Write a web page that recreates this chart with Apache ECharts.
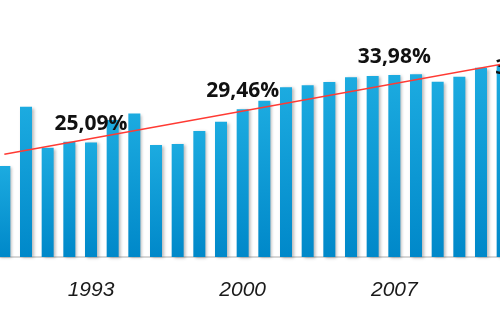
<!DOCTYPE html>
<html>
<head>
<meta charset="utf-8">
<script src="https://cdn.jsdelivr.net/npm/echarts@6/dist/echarts.min.js"></script>
<style>
  html, body { margin: 0; padding: 0; background: #ffffff; }
  #chart { width: 500px; height: 328px; }
</style>
</head>
<body>
<div id="chart"></div>
<script>
// Yearly share (%) shown as bars, with a linear trend line across the period
const years = ['1989','1990','1991','1992','1993','1994','1995','1996','1997','1998','1999','2000',
               '2001','2002','2003','2004','2005','2006','2007','2008','2009','2010','2011','2012'];
const shares = [22.0, 29.8, 24.4, 25.2, 25.09, 28.05, 28.9, 24.76, 24.89, 26.6, 27.83, 29.46,
                30.59, 32.36, 32.62, 33.06, 33.68, 33.85, 33.98, 34.07, 33.1, 33.75, 34.94, 35.3];
const labelledYears = ['1993', '2000', '2007'];
const edgeLabelYear = '2012';
const tickYears = ['1993', '2000', '2007'];
const trendStart = { year: '1989', value: 23.54 };
const trendEnd = { year: '2012', value: 35.43 };

const fmt = v => v.toFixed(2).replace('.', ',') + '%';

const labelFont = {
  fontFamily: '"Open Sans", "Liberation Sans", sans-serif',
  fontWeight: 'bold',
  fontSize: 21,
  color: '#111111'
};

const barData = years.map((y, i) => {
  const item = { value: shares[i] };
  if (labelledYears.includes(y)) {
    item.label = Object.assign({ show: true, position: 'top', distance: 8, formatter: p => fmt(p.value) }, labelFont);
  } else if (y === edgeLabelYear) {
    item.label = Object.assign({ show: true, position: 'top', distance: 8, offset: [29, 21], formatter: p => fmt(p.value) }, labelFont);
  }
  return item;
});

const chart = echarts.init(document.getElementById('chart'), null, { renderer: 'canvas' });
chart.setOption({
  backgroundColor: '#ffffff',
  animation: false,
  grid: { left: -6.5, right: -13.5, top: -1, bottom: 71, containLabel: false, outerBoundsMode: 'none' },
  xAxis: {
    type: 'category',
    data: years,
    axisTick: { show: false },
    axisLine: { show: true, lineStyle: { color: '#c8c8c8', width: 1.5 } },
    axisLabel: {
      interval: (idx, val) => tickYears.includes(val),
      margin: 23,
      fontFamily: '"Liberation Sans", "Open Sans", sans-serif',
      fontStyle: 'italic',
      fontSize: 21,
      color: '#1a1a1a'
    },
    splitLine: { show: false }
  },
  yAxis: { type: 'value', min: 10, max: 44, show: false, splitLine: { show: false } },
  series: [{
    type: 'bar',
    data: barData,
    barWidth: 12,
    itemStyle: {
      color: new echarts.graphic.LinearGradient(0, 0, 0, 1, [
        { offset: 0, color: '#1cabe0' },
        { offset: 1, color: '#0088c9' }
      ]),
      shadowColor: 'rgba(0,0,0,0.28)',
      shadowBlur: 3,
      shadowOffsetX: 2,
      shadowOffsetY: 1
    },
    markLine: {
      silent: true,
      symbol: 'none',
      label: { show: false },
      lineStyle: { color: '#ff3a33', width: 1.5, type: 'solid' },
      data: [[
        { coord: [trendStart.year, trendStart.value] },
        { coord: [trendEnd.year, trendEnd.value] }
      ]]
    }
  }]
});
</script>
</body>
</html>
